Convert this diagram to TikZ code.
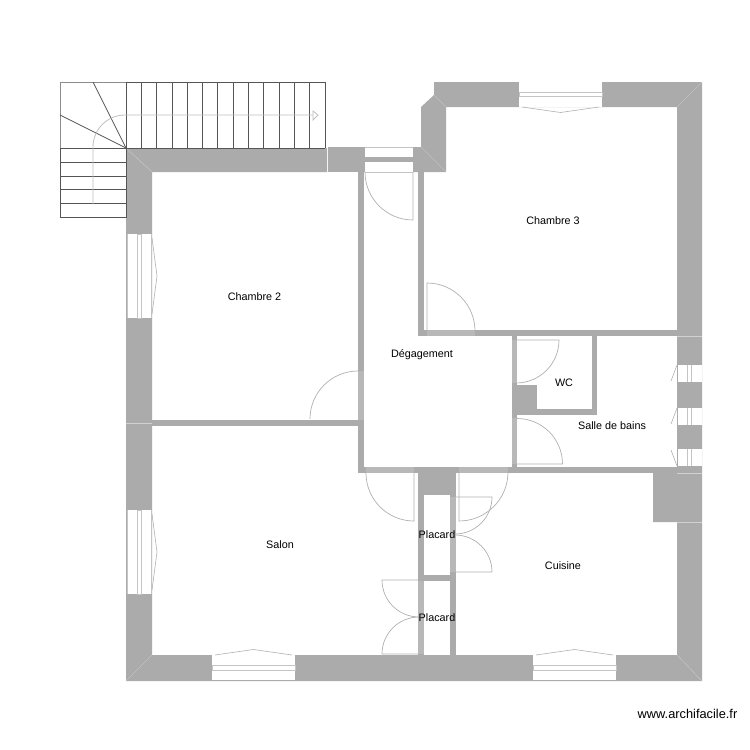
\documentclass[tikz,border=0pt]{standalone}
\usepackage{fontspec}
\setmainfont{Liberation Sans}
\definecolor{wallc}{HTML}{ABABAB}
\definecolor{openc}{HTML}{B8B8B8}
\definecolor{edgec}{HTML}{C4C4C4}
\definecolor{linec}{HTML}{B0B0B0}
\definecolor{stairc}{HTML}{555555}
\tikzset{
  wallfill/.style={fill=wallc,draw=none},
  opening/.style={fill=openc,draw=none},
  glass/.style={fill=white,draw=edgec,line width=0.6pt},
  doorline/.style={draw=linec,line width=0.7pt},
  miter/.style={draw=white!45!wallc,line width=0.3pt},
  flap/.style={draw=linec,line width=0.6pt},
  riser/.style={draw=stairc,line width=0.7pt},
  runline/.style={draw=black!25,line width=0.8pt},
  roomlabel/.style={font=\fontsize{10.8}{12}\selectfont,text=black,inner sep=0pt}
}
\newcommand{\hwin}[2]{% x, y: horizontal window 83 wide
  \fill[white] (#1,#2) rectangle ++(83,25);
  \draw[glass] (#1,#2+10.5) rectangle ++(83,4.5);
}
\newcommand{\vwin}[2]{% x, y: vertical window 84 high
  \fill[white] (#1,#2) rectangle ++(25,84);
  \draw[draw=edgec,line width=0.7pt] (#1+0.5,#2) -- ++(0,84) (#1+24.5,#2) -- ++(0,84);
  \draw[glass] (#1+11,#2) rectangle ++(4,84);
}
\newcommand{\bathwin}[1]{%
  \fill[white] (677.5,#1) rectangle (701.5,#1+17);
  \draw[draw=edgec,line width=0.7pt] (687,#1) -- ++(0,17) (691,#1) -- ++(0,17);
}
\begin{document}
\begin{tikzpicture}[x=1pt,y=-1pt]
\useasboundingbox (0,0) rectangle (750,750);
% ---------- masonry ----------
\fill[wallfill] (126,148) -- (327,148) -- (327,172) -- (152,172) -- (152,655) -- (677,655) -- (677,522) -- (653,522) -- (653,473) -- (677,473) -- (677,107) -- (446,107) -- (446,172) -- (413,172) -- (413,147) -- (421,147) -- (421,107) -- (434,95) -- (434,82) -- (702,82) -- (702,681) -- (126,681) -- cycle;
\fill[wallfill] (328,147) rectangle (365,172);
% thin walls
\fill[wallfill] (152,420) rectangle (358,426);
\fill[wallfill] (358,172) rectangle (363.5,473);
\fill[wallfill] (418,172) rectangle (424,336);
\fill[wallfill] (418,330) rectangle (677,336);
\fill[wallfill] (358,467) rectangle (677,473);
\fill[wallfill] (511.5,330) rectangle (517,473);
\fill[wallfill] (511.5,385) rectangle (537,415);
\fill[wallfill] (511.5,409) rectangle (597,415);
\fill[wallfill] (592,336) rectangle (597,415);
% cupboards
\fill[wallfill] (418,473) rectangle (456,495);
\fill[wallfill] (418,495) rectangle (424,655);
\fill[wallfill] (450,495) rectangle (456,655);
\fill[wallfill] (418,575) rectangle (456,581);
% door openings in the walls
\fill[opening] (358,371) rectangle (363.5,420);
\fill[opening] (427,330) rectangle (475,336);
\fill[opening] (366,467) rectangle (414,473);
\fill[opening] (459,467) rectangle (508,473);
\fill[opening] (511.5,340) rectangle (517,383);
\fill[opening] (511.5,418) rectangle (517,464);
\fill[opening] (450,497) rectangle (456,572);
\fill[opening] (418,581) rectangle (424,654);
% ---------- windows ----------
\hwin{519}{81.5}
\hwin{212}{655}
\hwin{533}{655}
\fill[white] (365,147.5) rectangle (413,172);
\fill[wallfill] (365,157) rectangle (413,162);
\draw[draw=edgec,line width=0.7pt] (365,147.5) -- (413,147.5) (365,172) -- (413,172);
\vwin{126.5}{234}
\vwin{126.5}{510}
\bathwin{365}
\bathwin{408}
\bathwin{449}
% window flaps
\draw[flap] (522,107) -- (560.5,112.5) -- (599,107);
\draw[flap] (215,655) -- (253.5,649.5) -- (292,655);
\draw[flap] (536,655) -- (574.5,649.5) -- (613,655);
\draw[flap] (152,238) -- (157,276) -- (152,314);
\draw[flap] (152,514) -- (157,552) -- (152,590);
\draw[flap] (677,365) -- (671,381);
\draw[flap] (677,408) -- (671,424);
\draw[flap] (671,450) -- (677,466);
% corner mitres
\draw[miter] (126,148) -- (152,172);
\draw[miter] (126,681) -- (152,655);
\draw[miter] (702,82) -- (677,107);
\draw[miter] (702,681) -- (677,655);
\draw[miter] (421,147) -- (446,172);
\draw[miter] (434,95) -- (446,107);
\draw[miter] (677,336) -- (702,336) (677,473) -- (702,473) (677,522) -- (702,522);
\draw[miter] (126,423) -- (152,423);
% ---------- doors ----------
\draw[doorline] (413,172) -- (413,220) arc[start angle=90,end angle=180,radius=48];
\draw[doorline] (427,330) -- (427,283) arc[start angle=-90,end angle=0,radius=48];
\draw[doorline] (358,371) arc[start angle=-90,end angle=-180,radius=48];
\draw[doorline] (414,473) -- (414,521) arc[start angle=90,end angle=180,radius=48];
\draw[doorline] (459,473) -- (459,521) arc[start angle=90,end angle=0,radius=49];
\draw[doorline] (456,497) -- (492,497) arc[start angle=0,end angle=90,radius=37];
\draw[doorline] (456,572) -- (492,572) arc[start angle=0,end angle=-90,radius=37];
\draw[doorline] (418,580) -- (382,580) arc[start angle=180,end angle=90,radius=37];
\draw[doorline] (418,654) -- (382,654) arc[start angle=180,end angle=270,radius=37];
\draw[doorline] (517,340) -- (559,340) arc[start angle=0,end angle=90,radius=43];
\draw[doorline] (517,464) -- (562.5,464) arc[start angle=0,end angle=-90,radius=45.5];
% ---------- stairs ----------
\draw[riser,draw=black!45] (126,82) -- (60,82) -- (60,148);
\draw[riser] (126,82) -- (325,82) (126,148) -- (325,148);
\foreach \sx in {126,141.3,156.6,171.9,187.2,202.5,217.8,233.1,248.4,263.7,279,294.3,309.6,325}{
  \draw[riser] (\sx,82) -- (\sx,148);
}
\draw[riser] (60,148) -- (60,217) -- (126,217) -- (126,148) -- cycle;
\foreach \sy in {162,176,189.5,203.5}{
  \draw[riser] (60,\sy) -- (126,\sy);
}
\draw[riser] (126,148) -- (93,82);
\draw[riser] (126,148) -- (60,115);
\draw[runline] (93,204) -- (93,147) arc[start angle=180,end angle=270,radius=32] -- (313,115);
\draw[runline] (313,111) -- (318,115) -- (313,120) -- cycle;
% ---------- labels ----------
\node[roomlabel] (chambre3) at (553,220.5) {Chambre 3};
\node[roomlabel] (chambre2) at (254.5,296.5) {Chambre 2};
\node[roomlabel] (degagement) at (422,355) {Dégagement};
\node[roomlabel] (wc) at (564,382.5) {WC};
\node[roomlabel] (bains) at (612,426) {Salle de bains};
\node[roomlabel] (salon) at (280,544.5) {Salon};
\node[roomlabel] (placardA) at (437,534.5) {Placard};
\node[roomlabel] (placardB) at (437,617.5) {Placard};
\node[roomlabel] (cuisine) at (563,565.5) {Cuisine};
\node[roomlabel,font=\fontsize{12.8}{14}\selectfont] (site) at (687.5,714) {www.archifacile.fr};
\end{tikzpicture}
\end{document}
